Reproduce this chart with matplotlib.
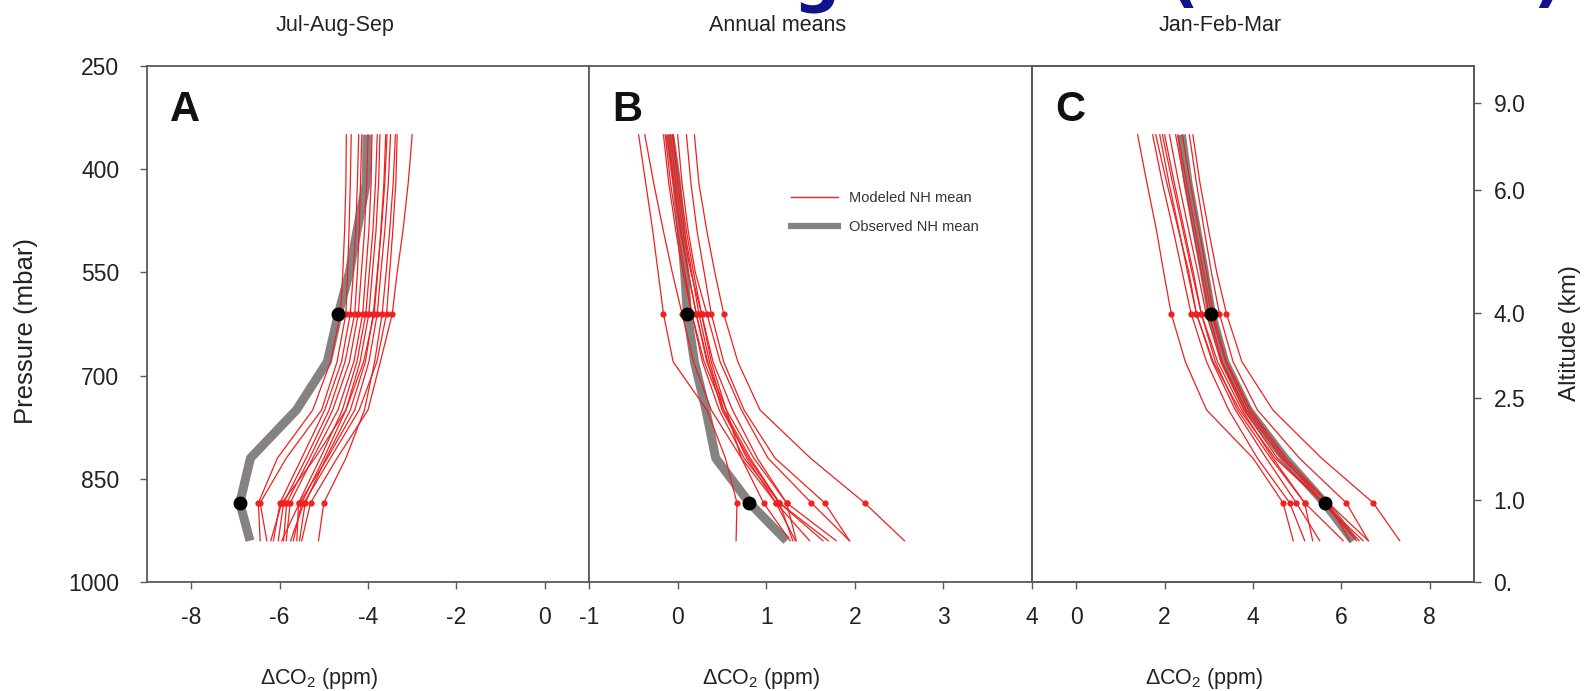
import matplotlib.pyplot as plt
from matplotlib.lines import Line2D

plt.rcParams['font.family'] = ['Liberation Sans', 'DejaVu Sans']
plt.rcParams['mathtext.fontset'] = 'custom'
plt.rcParams['mathtext.rm'] = 'Liberation Sans'
plt.rcParams['mathtext.it'] = 'Liberation Sans:italic'

# pressure levels of the profiles (mbar); index 4 ~ 4 km, index 8 ~ 1 km
levels = [350, 420, 490, 550, 610, 680, 750, 820, 885, 940]
i_4km, i_1km = 4, 8

# Jul-Aug-Sep
obs_jas = [-4.02, -4.04, -4.25, -4.42, -4.67, -4.92, -5.62, -6.66, -6.90, -6.67]
mod_jas = [
    [-4.49, -4.50, -4.53, -4.57, -4.62, -4.85, -5.25, -6.05, -6.48, -6.44],
    [-4.38, -4.40, -4.43, -4.46, -4.50, -4.70, -5.05, -5.85, -6.44, -6.29],
    [-4.21, -4.24, -4.28, -4.33, -4.40, -4.60, -4.98, -5.50, -5.99, -6.14],
    [-4.14, -4.17, -4.20, -4.24, -4.30, -4.52, -4.88, -5.40, -5.91, -6.03],
    [-4.00, -4.03, -4.08, -4.15, -4.22, -4.42, -4.80, -5.32, -5.84, -5.91],
    [-3.91, -3.93, -3.98, -4.05, -4.12, -4.32, -4.68, -5.25, -5.76, -5.85],
    [-3.79, -3.83, -3.89, -3.97, -4.05, -4.25, -4.58, -5.08, -5.57, -5.61],
    [-3.73, -3.76, -3.82, -3.90, -3.98, -4.18, -4.50, -5.00, -5.50, -5.69],
    [-3.57, -3.62, -3.70, -3.79, -3.88, -4.06, -4.40, -4.95, -5.42, -5.55],
    [-3.49, -3.54, -3.62, -3.71, -3.79, -3.98, -4.30, -4.92, -5.55, -5.95],
    [-3.38, -3.43, -3.51, -3.59, -3.68, -3.85, -4.08, -4.50, -5.00, -5.12],
    [-3.34, -3.37, -3.44, -3.51, -3.58, -3.80, -4.20, -4.85, -5.45, -5.75],
    [-3.00, -3.09, -3.21, -3.34, -3.45, -3.72, -4.00, -4.70, -5.30, -5.50],
    [-3.60, -3.64, -3.71, -3.78, -3.86, -4.10, -4.50, -5.20, -5.95, -6.20],
]

# annual means
obs_ann = [-0.09, -0.01, 0.04, 0.08, 0.11, 0.19, 0.32, 0.43, 0.81, 1.23]
mod_ann = [
    [-0.44, -0.36, -0.28, -0.22, -0.16, -0.05, 0.33, 0.54, 0.67, 0.66],
    [-0.37, -0.27, -0.16, -0.06, 0.05, 0.18, 0.38, 0.72, 1.11, 1.49],
    [-0.16, -0.10, -0.02, 0.06, 0.16, 0.30, 0.52, 0.82, 1.15, 1.64],
    [-0.12, -0.05, 0.03, 0.12, 0.21, 0.33, 0.55, 0.86, 1.23, 1.79],
    [-0.08, -0.02, 0.06, 0.15, 0.27, 0.40, 0.62, 0.90, 1.23, 1.34],
    [-0.05, 0.02, 0.10, 0.18, 0.27, 0.38, 0.55, 0.72, 0.97, 1.27],
    [0.00, 0.05, 0.12, 0.20, 0.33, 0.48, 0.72, 1.02, 1.51, 1.94],
    [0.10, 0.15, 0.22, 0.30, 0.38, 0.52, 0.75, 1.10, 1.66, 1.94],
    [0.19, 0.24, 0.33, 0.42, 0.52, 0.68, 0.93, 1.50, 2.11, 2.56],
    [-0.14, -0.08, 0.00, 0.08, 0.16, 0.28, 0.47, 0.75, 1.15, 1.30],
    [-0.10, -0.04, 0.04, 0.12, 0.21, 0.34, 0.50, 0.80, 1.15, 1.70],
    [-0.06, 0.00, 0.08, 0.16, 0.24, 0.36, 0.52, 0.78, 1.11, 1.33],
]

# Jan-Feb-Mar
obs_jfm = [2.38, 2.53, 2.73, 2.90, 3.06, 3.36, 3.89, 4.72, 5.62, 6.27]
mod_jfm = [
    [1.39, 1.60, 1.82, 1.98, 2.15, 2.47, 2.95, 4.00, 4.68, 4.91],
    [1.73, 1.95, 2.20, 2.40, 2.60, 2.95, 3.45, 4.10, 4.83, 5.17],
    [1.89, 2.10, 2.33, 2.52, 2.72, 3.08, 3.60, 4.30, 4.98, 5.51],
    [2.00, 2.22, 2.45, 2.65, 2.83, 3.15, 3.65, 4.40, 5.17, 6.04],
    [2.11, 2.32, 2.55, 2.75, 2.94, 3.28, 3.80, 4.55, 5.59, 6.34],
    [1.80, 2.05, 2.32, 2.55, 2.72, 3.10, 3.70, 4.50, 5.59, 6.49],
    [2.25, 2.45, 2.65, 2.83, 3.00, 3.30, 3.85, 4.65, 5.70, 6.61],
    [2.40, 2.58, 2.78, 2.95, 3.10, 3.40, 3.95, 4.75, 5.70, 6.19],
    [2.56, 2.72, 2.90, 3.06, 3.24, 3.55, 4.10, 5.05, 6.11, 6.61],
    [2.64, 2.80, 3.00, 3.18, 3.40, 3.75, 4.45, 5.55, 6.72, 7.32],
    [1.95, 2.18, 2.42, 2.62, 2.83, 3.20, 3.75, 4.45, 5.17, 5.35],
    [2.30, 2.50, 2.70, 2.88, 3.06, 3.38, 3.90, 4.70, 5.59, 6.40],
]

p_ticks = [250, 400, 550, 700, 850, 1000]
alt_ticks = [304, 430, 609, 733, 881, 1000]
alt_labels = ["9.0", "6.0", "4.0", "2.5", "1.0", "0."]

panels = [
    ("A", "Jul-Aug-Sep", obs_jas, mod_jas, (-9, 1), [-8, -6, -4, -2, 0]),
    ("B", "Annual means", obs_ann, mod_ann, (-1, 4), [-1, 0, 1, 2, 3, 4]),
    ("C", "Jan-Feb-Mar", obs_jfm, mod_jfm, (-1, 9), [0, 2, 4, 6, 8]),
]

W, H = 1585, 691
fig = plt.figure(figsize=(W / 100, H / 100), dpi=100)
edges = [147, 589, 1032, 1474]
top, bottom = 66, 582

RED = "#ee2020"
GRAY = "#878282"
FRAME = "#5a5a5a"
TXT = "#222222"

axes = []
for k, (letter, title, obs, mods, xlim, xticks) in enumerate(panels):
    ax = fig.add_axes([edges[k] / W, 1 - bottom / H,
                       (edges[k + 1] - edges[k]) / W, (bottom - top) / H])
    axes.append(ax)

    ax.plot(obs, levels, color=GRAY, lw=6.5, solid_capstyle="butt",
            solid_joinstyle="round", zorder=2)
    for m in mods:
        ax.plot(m, levels, color=RED, lw=0.9, zorder=3)
    for i in (i_4km, i_1km):
        ax.plot([m[i] for m in mods], [levels[i]] * len(mods), "o",
                ms=4.5, color=RED, mec="none", zorder=4)
        ax.plot(obs[i], levels[i], "o", ms=9, color="black", zorder=5)

    ax.set_xlim(*xlim)
    ax.set_ylim(1000, 250)
    ax.set_xticks(xticks)
    ax.set_xticklabels([str(t) for t in xticks])
    ax.tick_params(axis="x", direction="out", length=5, width=1, color=FRAME,
                   labelsize=16.5, pad=12, labelcolor=TXT)
    if k == 0:
        ax.set_yticks(p_ticks)
        ax.tick_params(axis="y", direction="out", length=5, width=1, color=FRAME,
                       labelsize=16.5, pad=15, labelcolor=TXT)
    else:
        ax.set_yticks([])
    for s in ax.spines.values():
        s.set_color(FRAME)
        s.set_linewidth(1.3)

    ax.text(0.052, 0.893, letter, transform=ax.transAxes, fontsize=30,
            fontweight="bold", color="#111111", va="baseline")

    # titles and x labels sit a little left of the panel centres
    cx = (edges[k] + edges[k + 1]) / 2
    fig.text((cx - 33) / W, 1 - 31 / H, title, ha="center", va="baseline",
             fontsize=15.5, color=TXT)
    fig.text((cx - 49) / W, 1 - 684 / H, "ΔCO$_2$ (ppm)", ha="center",
             va="baseline", fontsize=15.5, color=TXT)

# altitude scale on the right of the last panel
axr = axes[2].twinx()
axr.set_ylim(1000, 250)
axr.set_yticks(alt_ticks)
axr.set_yticklabels(alt_labels)
axr.tick_params(axis="y", direction="out", length=5, width=1, color=FRAME,
                labelsize=16.5, pad=9, labelcolor=TXT)
for s in axr.spines.values():
    s.set_color(FRAME)
    s.set_linewidth(1.3)

fig.text(26 / W, 1 - 331 / H, "Pressure (mbar)", rotation=90, ha="center",
         va="center", fontsize=18.5, color=TXT)
fig.text(1570 / W, 1 - 333 / H, "Altitude (km)", rotation=90, ha="center",
         va="center", fontsize=17.5, color=TXT)

handles = [Line2D([], [], color=RED, lw=1.0),
           Line2D([], [], color=GRAY, lw=4.5)]
leg = axes[1].legend(handles, ["Modeled NH mean", "Observed NH mean"],
                     loc="upper left", bbox_to_anchor=(0.456, 0.758),
                     frameon=False, fontsize=10.5, handlelength=3.2,
                     handletextpad=0.8, labelspacing=1.05, borderpad=0,
                     borderaxespad=0)
for t in leg.get_texts():
    t.set_color("#333333")

# slide heading running off the top edge
fig.text(1563 / W, 1 + 1.5 / H, "Vertical gradients (NH mean)", ha="right",
         va="baseline", fontsize=47, fontweight="bold", color="#12128c",
         family="DejaVu Sans")

fig.savefig("out.png", dpi=100)
